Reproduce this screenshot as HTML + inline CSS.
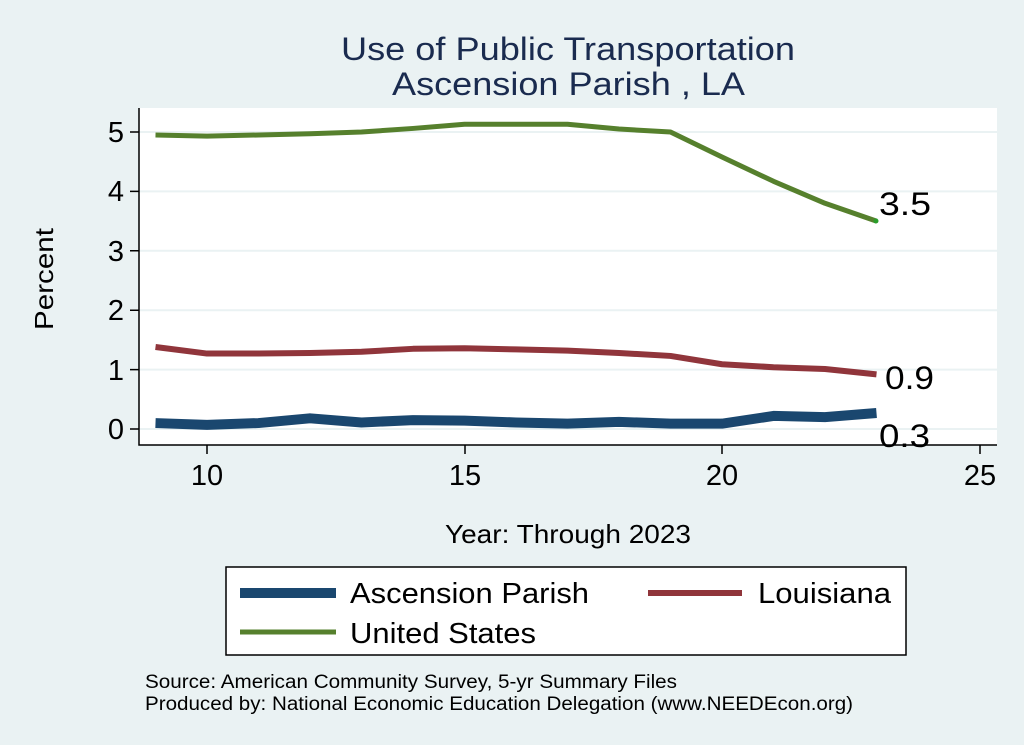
<!DOCTYPE html>
<html><head><meta charset="utf-8"><style>
body{margin:0;background:#eaf2f3;}
svg{display:block;font-family:"Liberation Sans",sans-serif;}
</style></head><body>
<svg width="1024" height="745" viewBox="0 0 1024 745">
<rect width="1024" height="745" fill="#eaf2f3"/>
<text x="341" y="60" font-size="32" fill="#1a2b4f" textLength="454" lengthAdjust="spacingAndGlyphs">Use of Public Transportation</text>
<text x="392" y="95" font-size="32" fill="#1a2b4f" textLength="353" lengthAdjust="spacingAndGlyphs">Ascension Parish , LA</text>
<rect x="139" y="108" width="858" height="337" fill="#fff"/>
<g stroke="#eaf2f3" stroke-width="2">
<line x1="139" x2="997" y1="132" y2="132"/><line x1="139" x2="997" y1="191.4" y2="191.4"/>
<line x1="139" x2="997" y1="250.8" y2="250.8"/><line x1="139" x2="997" y1="310.2" y2="310.2"/>
<line x1="139" x2="997" y1="369.6" y2="369.6"/><line x1="139" x2="997" y1="429" y2="429"/>
</g>
<g stroke="#000" stroke-width="1.5" fill="none">
<path d="M139 108V445H997"/>
<path d="M130 132H139M130 191.4H139M130 250.8H139M130 310.2H139M130 369.6H139M130 429H139"/>
<path d="M207 445v9M465 445v9M722 445v9M980 445v9"/>
</g>
<g font-size="29" fill="#000" text-anchor="end">
<text x="124" y="142">5</text><text x="124" y="201">4</text><text x="124" y="261">3</text>
<text x="124" y="320">2</text><text x="124" y="380">1</text><text x="124" y="439">0</text>
</g>
<g font-size="29" fill="#000" text-anchor="middle">
<text x="207" y="485">10</text><text x="465" y="485">15</text><text x="722" y="485">20</text><text x="980" y="485">25</text>
</g>
<text x="445" y="543" font-size="26" textLength="246" lengthAdjust="spacingAndGlyphs">Year: Through 2023</text>
<text transform="translate(53,330) rotate(-90)" font-size="26" textLength="102" lengthAdjust="spacingAndGlyphs">Percent</text>
<g fill="none" stroke-linejoin="round">
<g transform="translate(-308,429) scale(51.5,-59.4)">
<polyline vector-effect="non-scaling-stroke" stroke="#56802d" stroke-width="5" points="9,4.95 10,4.93 11,4.95 12,4.97 13,5.0 14,5.06 15,5.13 16,5.13 17,5.13 18,5.05 19,5.0 20,4.58 21,4.17 22,3.8 23,3.5"/>
<polyline vector-effect="non-scaling-stroke" stroke="#90353b" stroke-width="6" points="9,1.38 10,1.27 11,1.27 12,1.28 13,1.3 14,1.35 15,1.36 16,1.34 17,1.32 18,1.28 19,1.23 20,1.09 21,1.04 22,1.01 23,0.92"/>
<polyline vector-effect="non-scaling-stroke" stroke="#1a476f" stroke-width="10" points="9,0.1 10,0.07 11,0.1 12,0.18 13,0.11 14,0.15 15,0.14 16,0.11 17,0.09 18,0.12 19,0.09 20,0.09 21,0.22 22,0.2 23,0.27"/>
</g></g>
<circle cx="876" cy="221" r="2.5" fill="#2a9d2a"/>
<g font-size="32" fill="#000">
<text x="879" y="215" textLength="52" lengthAdjust="spacingAndGlyphs">3.5</text>
<text x="885" y="389" textLength="49" lengthAdjust="spacingAndGlyphs">0.9</text>
<text x="879" y="447" textLength="51" lengthAdjust="spacingAndGlyphs">0.3</text>
</g>
<rect x="226" y="567" width="680" height="88" fill="#fff" stroke="#000" stroke-width="1.5"/>
<line x1="240" x2="336" y1="593" y2="593" stroke="#1a476f" stroke-width="10"/>
<text x="350" y="603" font-size="29" textLength="239" lengthAdjust="spacingAndGlyphs">Ascension Parish</text>
<line x1="648" x2="742" y1="593" y2="593" stroke="#90353b" stroke-width="6"/>
<text x="758" y="603" font-size="29" textLength="133" lengthAdjust="spacingAndGlyphs">Louisiana</text>
<line x1="240" x2="336" y1="632" y2="632" stroke="#56802d" stroke-width="5"/>
<text x="350" y="643" font-size="29" textLength="186" lengthAdjust="spacingAndGlyphs">United States</text>
<text x="145" y="688" font-size="19" textLength="532" lengthAdjust="spacingAndGlyphs">Source: American Community Survey, 5-yr Summary Files</text>
<text x="145" y="710" font-size="19" textLength="708" lengthAdjust="spacingAndGlyphs">Produced by: National Economic Education Delegation (www.NEEDEcon.org)</text>
</svg>
</body></html>
